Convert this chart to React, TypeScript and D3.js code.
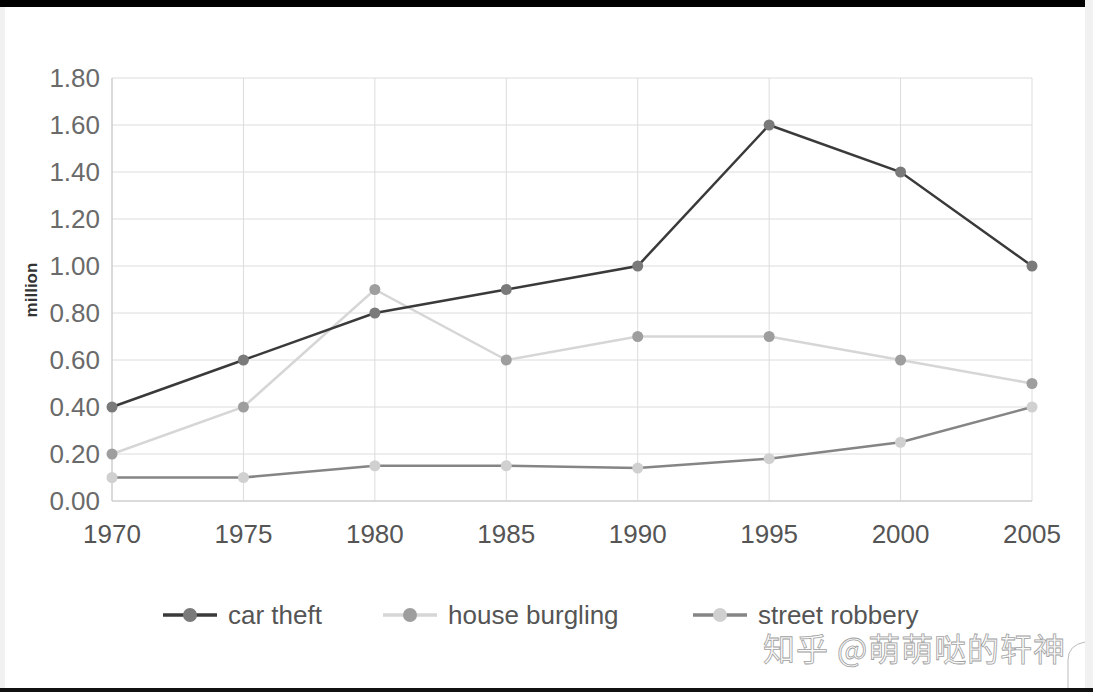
import React from "react";
import * as d3 from "d3";

const years = [1970, 1975, 1980, 1985, 1990, 1995, 2000, 2005];
const carTheft = [0.4, 0.6, 0.8, 0.9, 1.0, 1.6, 1.4, 1.0];
const houseBurgling = [0.2, 0.4, 0.9, 0.6, 0.7, 0.7, 0.6, 0.5];
const streetRobbery = [0.1, 0.1, 0.15, 0.15, 0.14, 0.18, 0.25, 0.4];
const yTicks = [0, 0.2, 0.4, 0.6, 0.8, 1.0, 1.2, 1.4, 1.6, 1.8];
const seriesNames = ["car theft", "house burgling", "street robbery"];

const W = 1093;
const H = 692;

export default function App() {
  const x = d3.scaleLinear().domain([1970, 2005]).range([112, 1032]);
  const y = d3.scaleLinear().domain([0, 1.8]).range([501, 78]);
  const line = d3
    .line<number>()
    .x((_, i) => x(years[i]))
    .y((d) => y(d));

  const series = [
    { name: seriesNames[0], data: carTheft, line: "#3a3a3a", dot: "#7a7a7a" },
    { name: seriesNames[1], data: houseBurgling, line: "#d6d6d6", dot: "#9e9e9e" },
    { name: seriesNames[2], data: streetRobbery, line: "#858585", dot: "#d0d0d0" },
  ];
  const drawOrder = [1, 2, 0];
  const legendX = [163, 383, 693];
  const font = "'Liberation Sans', Arial, sans-serif";

  return (
    <div style={{ position: "absolute", left: 0, top: 0 }}>
      <svg width={W} height={H} style={{ display: "block" }}>
        <rect x={0} y={0} width={W} height={H} fill="#ffffff" />
        <rect x={0} y={0} width={5} height={H} fill="#f1f1f1" />
        <rect x={1085} y={0} width={8} height={H} fill="#f1f1f1" />
        <rect x={0} y={0} width={1085} height={7} fill="#000" />
        <rect x={0} y={688} width={W} height={4} fill="#111" />
        {yTicks.map((t) => (
          <line key={"gy" + t} x1={112} x2={1032} y1={y(t)} y2={y(t)} stroke="#dcdcdc" strokeWidth={1} />
        ))}
        {years.map((yr) => (
          <line key={"gx" + yr} x1={x(yr)} x2={x(yr)} y1={78} y2={501} stroke="#dcdcdc" strokeWidth={1} />
        ))}
        <line x1={112} x2={1032} y1={501} y2={501} stroke="#c8c8c8" />
        <line x1={112} x2={112} y1={78} y2={501} stroke="#c8c8c8" />
        {yTicks.map((t) => (
          <text key={"ty" + t} x={100} y={y(t) + 9} textAnchor="end" fontFamily={font} fontSize={26} fill="#6a6a6a">
            {t.toFixed(2)}
          </text>
        ))}
        {years.map((yr) => (
          <text key={"tx" + yr} x={x(yr)} y={543} textAnchor="middle" fontFamily={font} fontSize={26} fill="#555">
            {yr}
          </text>
        ))}
        <text
          transform="translate(37,290) rotate(-90)"
          textAnchor="middle"
          fontFamily={font}
          fontSize={17}
          fontWeight="bold"
          fill="#333"
        >
          million
        </text>
        {drawOrder.map((i) => {
          const s = series[i];
          return (
            <g key={s.name}>
              <path d={line(s.data) || ""} fill="none" stroke={s.line} strokeWidth={2.5} />
              {s.data.map((v, j) => (
                <circle key={j} cx={x(years[j])} cy={y(v)} r={5.5} fill={s.dot} />
              ))}
            </g>
          );
        })}
        {series.map((s, i) => (
          <g key={"lg" + s.name}>
            <line x1={legendX[i]} x2={legendX[i] + 54} y1={615} y2={615} stroke={s.line} strokeWidth={3.5} />
            <circle cx={legendX[i] + 27} cy={615} r={7} fill={s.dot} />
            <text x={legendX[i] + 65} y={624} fontFamily={font} fontSize={26} fill="#555">
              {s.name}
            </text>
          </g>
        ))}
        <text
          x={763}
          y={661}
          fontFamily="'Noto Sans CJK SC', sans-serif"
          fontSize={32}
          fill="#fbfbfb"
          stroke="#a0a0a0"
          strokeWidth={0.8}
          textLength={302}
        >
          知乎 @萌萌哒的轩神
        </text>
        <path d="M1068,688 L1068,660 Q1068,645 1085,642" fill="none" stroke="#bbb" strokeWidth={1} />
      </svg>
    </div>
  );
}
